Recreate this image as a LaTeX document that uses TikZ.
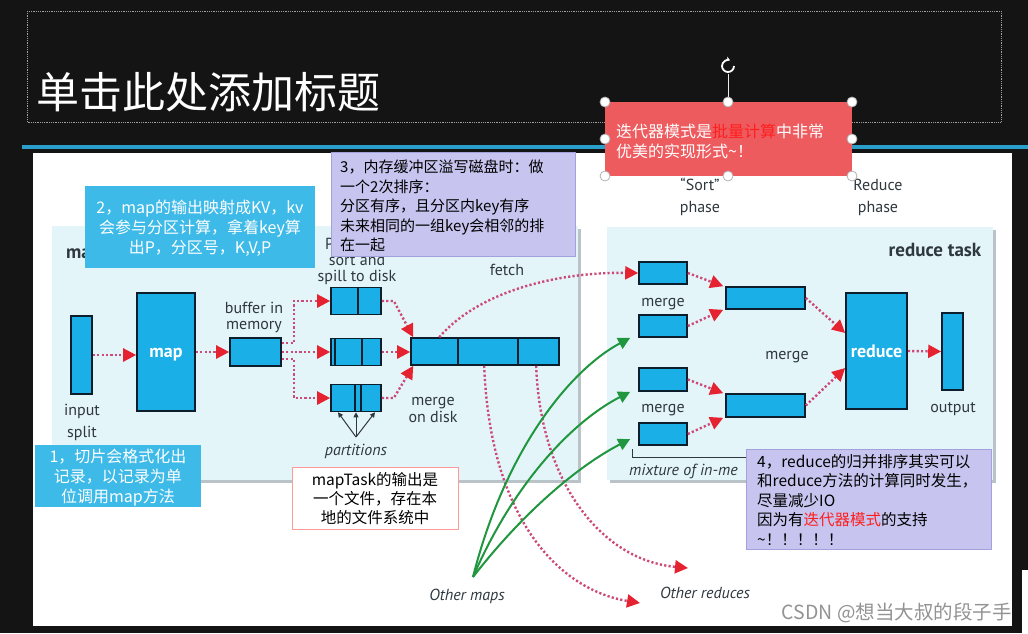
\documentclass[tikz,border=0pt]{standalone}
\usepackage{fontspec}
\setmainfont{PT Sans}
\newfontfamily\cjk{Noto Sans CJK SC}
\usetikzlibrary{arrows.meta}
\definecolor{bgdark}{HTML}{141414}
\definecolor{boxblue}{HTML}{1AAFE6}
\definecolor{boxedge}{HTML}{0C1E2B}
\definecolor{taskbg}{HTML}{E4F5FA}
\definecolor{taskshadow}{HTML}{B9C3C8}
\definecolor{dotpink}{HTML}{CC4A78}
\definecolor{arrred}{HTML}{E52330}
\definecolor{arrgreen}{HTML}{20963F}
\definecolor{callblue}{HTML}{3DBAE8}
\definecolor{lavfill}{HTML}{C7C5EF}
\definecolor{lavedge}{HTML}{A3A1DB}
\definecolor{redcall}{HTML}{EE5B5F}
\definecolor{hotred}{HTML}{FF1E1E}
\definecolor{labgray}{HTML}{2E383E}
\definecolor{bluestripe}{HTML}{2A9FCB}
\begin{document}
\begin{tikzpicture}[x=1pt,y=-1pt,
  lab/.style={inner sep=0, text=labgray, font=\fontsize{16}{16}\selectfont},
  labit/.style={inner sep=0, text=labgray, font=\fontsize{16}{16}\selectfont\itshape},
  labbf/.style={inner sep=0, text=labgray, font=\fontsize{19}{19}\selectfont\bfseries},
  inlab/.style={inner sep=0, text=white, font=\fontsize{18}{18}\selectfont\bfseries},
  blk/.style={rectangle, draw=boxedge, fill=boxblue, line width=1.6pt, inner sep=0},
  dl/.style={draw=dotpink, line width=2.4pt, dash pattern=on 2.2pt off 2.2pt, -{Triangle[length=13pt,width=13pt,color=arrred]}},
  gl/.style={draw=arrgreen, line width=2pt, -{Triangle[length=12pt,width=12pt,color=arrgreen]}},
  task/.style={rectangle, fill=taskbg, inner sep=0, anchor=north west},
  callout/.style={rectangle, inner sep=0, anchor=north west},
  ctext/.style={inner sep=0, font=\cjk\fontsize{16}{20}\selectfont},
  handle/.style={circle, draw=gray!60, fill=white, line width=0.8pt, inner sep=0, minimum size=10pt}
]
\useasboundingbox (0,0) rectangle (1028,633);
% background
\fill[bgdark] (0,0) rectangle (1028,633);
\draw[gray!75, densely dotted, line width=0.8pt] (27,11) rectangle (1001,122);
\node[anchor=base west, inner sep=0, text=white, font=\cjk\fontsize{43}{43}\selectfont] (title) at (36,108) {单击此处添加标题};
\draw[bluestripe, line width=4pt] (22,147) -- (1028,147);
\fill[white] (33,153) rectangle (1012,626);
\fill[white] (1022,570) rectangle (1028,633);

% task areas
\fill[taskshadow] (55,229) rectangle (581,483);
\node[task, minimum width=526pt, minimum height=254pt] (maptask) at (52,226) {};
\fill[taskshadow] (610,230) rectangle (996,483);
\node[task, minimum width=386pt, minimum height=253pt] (redtask) at (607,227) {};

% phase labels
\node[lab, anchor=base] (lsorta) at (700,190) {“Sort”};
\node[lab, anchor=base] (lsortb) at (700,212) {phase};
\node[lab, anchor=base] (lreda) at (878,190) {Reduce};
\node[lab, anchor=base] (lredb) at (878,212) {phase};
\node[labbf, anchor=base west] (lmaptask) at (66,258) {map task};
\node[labbf, anchor=base] (lredtask) at (935,256) {reduce task};

% map side boxes
\node[blk, minimum width=21pt, minimum height=78pt] (split) at (81.5,355) {};
\node[blk, minimum width=58pt, minimum height=118pt] (mapbox) at (166,352) {};
\node[inlab, anchor=base] (lmap) at (166,357) {map};
\node[blk, minimum width=51pt, minimum height=28pt] (buf) at (255.5,352) {};
\node[blk, minimum width=50pt, minimum height=27pt] (sp1) at (356,301) {};
\node[blk, minimum width=50pt, minimum height=27pt] (sp2) at (356,352) {};
\node[blk, minimum width=50pt, minimum height=27pt] (sp3) at (356,398) {};
\node[blk, minimum width=148pt, minimum height=27pt] (mrg) at (485,351.5) {};
\draw[boxedge, line width=1.6pt] (358,288) -- (358,314);
\draw[boxedge, line width=1.6pt] (335,339) -- (335,365);
\draw[boxedge, line width=1.6pt] (362,339) -- (362,365);
\draw[boxedge, line width=1.6pt] (355,385) -- (355,411);
\draw[boxedge, line width=1.6pt] (361,385) -- (361,411);
\draw[boxedge, line width=1.6pt] (458,338) -- (458,365);
\draw[boxedge, line width=1.6pt] (518,338) -- (518,365);

% map side labels
\node[lab, anchor=base] (lsplita) at (82,415) {input};
\node[lab, anchor=base] (lsplitb) at (82,437) {split};
\node[lab, anchor=base] (lbufa) at (254,313) {buffer in};
\node[lab, anchor=base] (lbufb) at (254,329) {memory};
\node[lab, anchor=base west] (lparta) at (325,249) {P};
\node[lab, anchor=base] (lsortc) at (357,265) {sort and};
\node[lab, anchor=base] (lspill) at (357,281) {spill to disk};
\node[lab, anchor=base] (lfetch) at (507,275) {fetch};
\node[lab, anchor=base] (lmda) at (433,405) {merge};
\node[lab, anchor=base] (lmdb) at (433,422) {on disk};
\node[labit, anchor=base] (lparts) at (356,455) {partitions};
\coordinate (pc) at (356,437);
\draw[labgray, line width=1pt, -{Triangle[length=5pt,width=5pt]}] (pc) -- ([xshift=-18pt]sp3.south);
\draw[labgray, line width=1pt, -{Triangle[length=5pt,width=5pt]}] (pc) -- (sp3.south);
\draw[labgray, line width=1pt, -{Triangle[length=5pt,width=5pt]}] (pc) -- ([xshift=19pt]sp3.south);

% reduce side boxes
\node[blk, minimum width=48pt, minimum height=22pt] (rA) at (663,273) {};
\node[blk, minimum width=48pt, minimum height=22pt] (rB) at (663,326) {};
\node[blk, minimum width=48pt, minimum height=23pt] (rC) at (663,379.5) {};
\node[blk, minimum width=48pt, minimum height=22pt] (rD) at (663,434) {};
\node[blk, minimum width=79pt, minimum height=22pt] (bar1) at (765.5,298) {};
\node[blk, minimum width=79pt, minimum height=23pt] (bar2) at (765.5,405.5) {};
\node[blk, minimum width=61pt, minimum height=116pt] (redbox) at (876.5,351) {};
\node[inlab, anchor=base] (lreduce) at (876.5,357) {reduce};
\node[blk, minimum width=21pt, minimum height=77pt] (outbox) at (952.5,351.5) {};
\node[lab, anchor=base] (lma) at (663,306) {merge};
\node[lab, anchor=base] (lmb) at (663,412) {merge};
\node[lab, anchor=base] (lmc) at (787,359) {merge};
\node[lab, anchor=base] (lout) at (953,412) {output};
\draw[labgray, line width=0.8pt] (632,449) -- (632,457) -- (790,457);
\node[labit, anchor=base west] (lmix) at (629,475) {mixture of in-me};

% map side connectors
\draw[dl] (split.east) -- (mapbox.west |- split.east);
\draw[dl] (mapbox.east |- buf.west) -- (buf.west);
\draw[dl] ([yshift=9pt]buf.east) -- ++(12,0) |- (sp1.west);
\draw[dl] (buf.east) -- (sp2.west);
\draw[dl] ([yshift=-7pt]buf.east) -- ++(12,0) |- (sp3.west);
\draw[dl] (sp1.east) -- ++(12,0) -- ([xshift=3pt]mrg.north west);
\draw[dl] (sp2.east) -- (mrg.west |- sp2.east);
\draw[dl] (sp3.east) -- ++(12,0) -- ([xshift=3pt]mrg.south west);

% fetch and others
\draw[dl] ([xshift=29pt]mrg.north west) .. controls (480,290) and (560,272) .. (rA.west);
\coordinate (orA) at (640,603);
\coordinate (orB) at (688,568);
\draw[dl] ([xshift=74pt]mrg.south west) .. controls (490,520) and (560,590) .. (orA);
\draw[dl] ([xshift=126pt]mrg.south west) .. controls (540,480) and (600,560) .. (orB);
\coordinate (om) at (473,577);
\draw[gl] (om) .. controls (505,450) and (570,370) .. ([xshift=-8pt]rB.south west);
\draw[gl] (om) .. controls (515,480) and (575,420) .. ([xshift=-8pt]rC.south west);
\draw[gl] (om) .. controls (525,510) and (580,465) .. ([xshift=-8pt,yshift=-5pt]rD.west);
\node[labit, anchor=base] (lom) at (467,600) {Other maps};
\node[labit, anchor=base] (lor) at (705,598) {Other reduces};

% reduce side connectors
\draw[dl] (rA.east) -- ([xshift=-2pt]bar1.north west);
\draw[dl] (rB.east) -- ([xshift=-2pt]bar1.south west);
\draw[dl] (rC.east) -- ([xshift=-2pt]bar2.north west);
\draw[dl] (rD.east) -- ([xshift=-2pt]bar2.south west);
\draw[dl] (bar1.east) -- ([yshift=18pt]redbox.west);
\draw[dl] (bar2.east) -- ([yshift=-17pt]redbox.west);
\draw[dl] (redbox.east) -- (outbox.west);

% callouts
\node[callout, fill=callblue, minimum width=230pt, minimum height=82pt] (c2) at (85,186) {};
\node[ctext, text=white, align=center, anchor=north] (c2t) at (200,200) {2，map的输出映射成KV，kv\\会参与分区计算，拿着key算\\出P，分区号，K,V,P};

\node[callout, fill=callblue, minimum width=166pt, minimum height=62pt] (c1) at (35,445) {};
\node[ctext, text=white, align=center, anchor=north] (c1t) at (118,449) {1，切片会格式化出\\记录，以记录为单\\位调用map方法};

\node[callout, fill=lavfill, draw=lavedge, line width=0.8pt, minimum width=244pt, minimum height=104pt] (c3) at (331,152) {};
\node[ctext, text=black, align=left, anchor=north west, font=\cjk\fontsize{15}{19.5}\selectfont] (c3t) at (340,160) {3，内存缓冲区溢写磁盘时：做\\一个2次排序：\\分区有序，且分区内key有序\\未来相同的一组key会相邻的排\\在一起};

\node[callout, fill=white, draw=red!40, line width=0.8pt, minimum width=166pt, minimum height=62pt] (cm) at (292,467) {};
\node[ctext, text=black, align=center, anchor=north, font=\cjk\fontsize{15.5}{19}\selectfont] (cmt) at (375,472) {mapTask的输出是\\一个文件，存在本\\地的文件系统中};

\node[callout, fill=lavfill, draw=lavedge, line width=0.8pt, minimum width=245pt, minimum height=100pt] (c4) at (746,449) {};
\node[ctext, text=black, align=left, anchor=north west, font=\cjk\fontsize{15.5}{19.5}\selectfont] (c4t) at (757,454) {4，reduce的归并排序其实可以\\和reduce方法的计算同时发生，\\尽量减少IO\\因为有\textcolor{hotred}{迭代器模式}的支持\\\textasciitilde！！！！！};

% red callout with selection handles
\node[callout, fill=redcall, minimum width=247pt, minimum height=74pt] (cr) at (605,102) {};
\node[ctext, text=white, align=left, anchor=north west] (crt) at (616,124) {迭代器模式是\textcolor{hotred}{批量计算}中非常\\优美的实现形式\textasciitilde！};
\draw[white!85!gray, line width=0.8pt] (728,74) -- (728,97);
\draw[white, line width=1.8pt, -{Stealth[length=4pt,width=5pt]}] (734,66) arc[start angle=0, end angle=290, radius=6];
\node[handle] (h1) at (605,102) {};
\node[handle] (h2) at (728,102) {};
\node[handle] (h3) at (852,102) {};
\node[handle] (h4) at (605,139) {};
\node[handle] (h5) at (852,139) {};
\node[handle] (h6) at (605,176) {};
\node[handle] (h7) at (728,176) {};
\node[handle] (h8) at (852,176) {};

% watermark
\node[anchor=base east, inner sep=0, text=gray!85, font=\cjk\fontsize{19.5}{19.5}\selectfont] (wm) at (1012,619) {CSDN @想当大叔的段子手};
\end{tikzpicture}
\end{document}
